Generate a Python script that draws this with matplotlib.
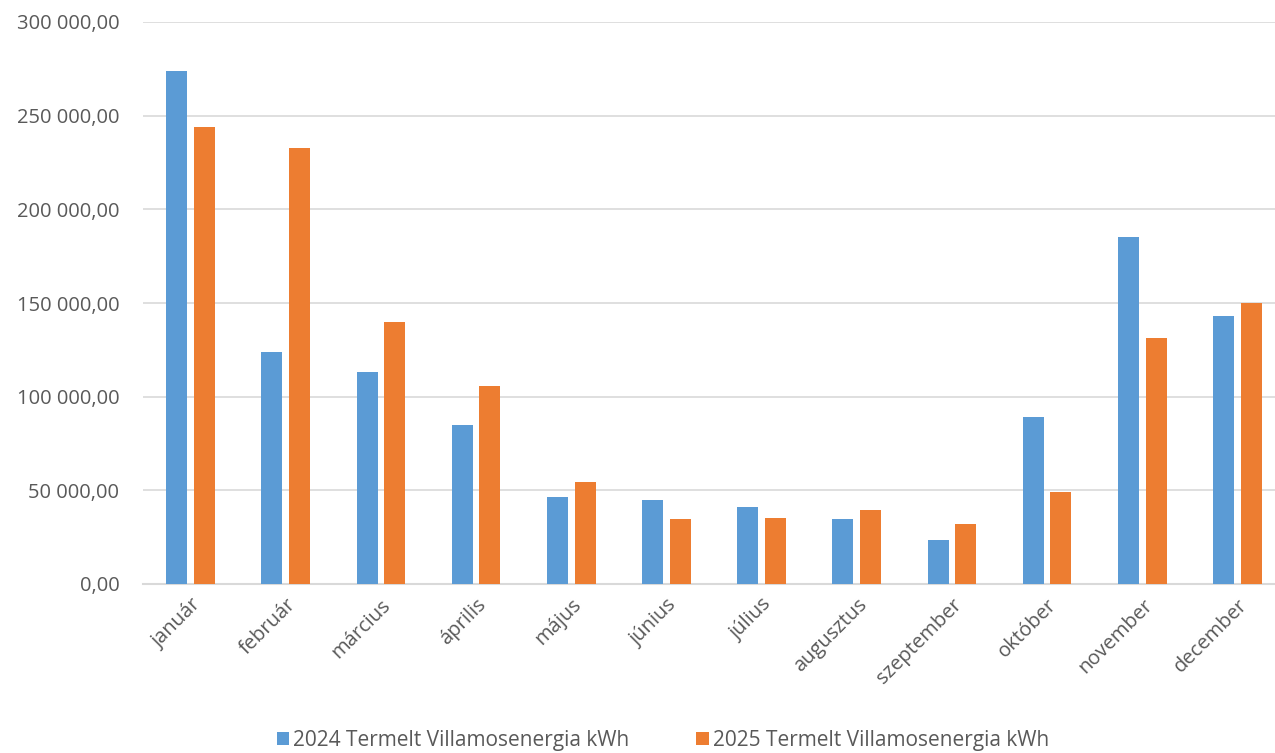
import numpy as np
import matplotlib
matplotlib.use('Agg')
import matplotlib.pyplot as plt
from matplotlib.ticker import FuncFormatter

# ── Data ─────────────────────────────────────────────────────────
months = ['január', 'február', 'március', 'április', 'május', 'június',
          'július', 'augusztus', 'szeptember', 'október', 'november', 'december']
kwh_2024 = [274000, 124000, 113000, 85000, 46500, 45000,
            41000, 34700, 23500, 89000, 185000, 143000]
kwh_2025 = [244000, 233000, 140000, 105700, 54500, 34700,
            35200, 39500, 32000, 49000, 131300, 150000]
labels = ['2024 Termelt Villamosenergia kWh', '2025 Termelt Villamosenergia kWh']

plt.rcParams['font.family'] = ['Open Sans', 'DejaVu Sans']
TXT = '#595959'

fig = plt.figure(figsize=(12.75, 7.53), dpi=100)
ax = fig.add_axes([143 / 1275, 1 - 584 / 753, 1142 / 1275, (584 - 22) / 753])

x = np.arange(len(months))
w = 0.22
ax.bar(x - 0.145, kwh_2024, w, color='#5B9BD5', label=labels[0], zorder=3)
ax.bar(x + 0.145, kwh_2025, w, color='#ED7D31', label=labels[1], zorder=3)

ax.set_xlim(-0.5, 11.5)
ax.set_ylim(0, 300000)
ax.set_yticks(np.arange(0, 300001, 50000))
ax.yaxis.set_major_formatter(FuncFormatter(
    lambda v, _: f"{v:,.2f}".replace(',', ' ').replace('.', ',')))
ax.grid(axis='y', color='#D9D9D9', lw=1.2, zorder=0)
for s in ['top', 'right', 'left']:
    ax.spines[s].set_visible(False)
ax.spines['bottom'].set_color('#D9D9D9')
ax.spines['bottom'].set_linewidth(1.5)
ax.tick_params(length=0, labelsize=14.5, colors=TXT)
ax.tick_params(axis='y', pad=17)
ax.tick_params(axis='x', pad=8)
ax.set_xticks(x)
ax.set_xticklabels(months, rotation=45, ha='right', va='top', rotation_mode='anchor')

fig.legend(loc='lower center', bbox_to_anchor=(0.52, -0.022), ncol=2, frameon=False,
           fontsize=15, labelcolor=TXT, handlelength=0.6, handleheight=0.6,
           handletextpad=0.2, columnspacing=3.2)

fig.savefig('out.png', dpi=100)
